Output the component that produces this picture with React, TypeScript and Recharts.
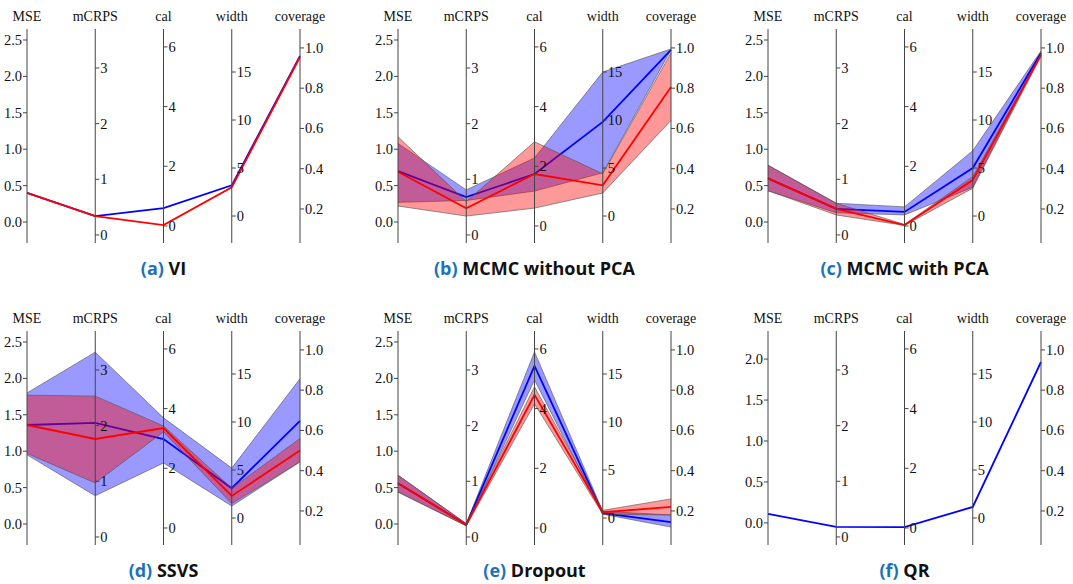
import { Area, ComposedChart, Line, ReferenceDot, ReferenceLine, XAxis, YAxis } from 'recharts'

const AXES = ['MSE', 'mCRPS', 'cal', 'width', 'coverage']

// value at the bottom / top end of each vertical axis
const AXIS_LO = [-0.288, -0.144, -0.57, -2.81, 0.031]
const AXIS_HI = [2.651, 3.7, 6.6, 19.48, 1.094]
const QR_MSE_LO = -0.27
const QR_MSE_HI = 2.343

const MSE_TICKS = [0, 0.5, 1, 1.5, 2, 2.5]
const QR_MSE_TICKS = [0, 0.5, 1, 1.5, 2]
const MCRPS_TICKS = [0, 1, 2, 3]
const CAL_TICKS = [0, 2, 4, 6]
const WIDTH_TICKS = [0, 5, 10, 15]
const COVERAGE_TICKS = [0.2, 0.4, 0.6, 0.8, 1]

// (a) VI
const VI_BLUE = [0.4, 0.34, 0.6, 3.2, 0.96]
const VI_RED = [0.4, 0.34, 0.03, 3.0, 0.955]

// (b) MCMC without PCA
const MCMC_BLUE = [0.7, 0.68, 1.74, 9.8, 0.99]
const MCMC_BLUE_LO = [0.27, 0.62, 1.17, 4.5, 0.99]
const MCMC_BLUE_HI = [1.08, 0.81, 2.28, 15.0, 0.995]
const MCMC_RED = [0.69, 0.48, 1.74, 3.2, 0.806]
const MCMC_RED_LO = [0.22, 0.34, 0.6, 2.4, 0.64]
const MCMC_RED_HI = [1.17, 0.6, 2.82, 4.4, 0.975]

// (c) MCMC with PCA
const PCA_BLUE = [0.6, 0.47, 0.47, 5.0, 0.975]
const PCA_BLUE_LO = [0.43, 0.4, 0.37, 3.0, 0.97]
const PCA_BLUE_HI = [0.78, 0.57, 0.64, 6.8, 0.985]
const PCA_RED = [0.6, 0.47, 0.03, 3.75, 0.965]
const PCA_RED_LO = [0.43, 0.36, 0.02, 2.9, 0.96]
const PCA_RED_HI = [0.78, 0.57, 0.05, 4.1, 0.97]

// (d) SSVS
const SSVS_BLUE = [1.36, 2.05, 2.98, 3.1, 0.648]
const SSVS_BLUE_LO = [0.95, 0.74, 2.18, 1.25, 0.444]
const SSVS_BLUE_HI = [1.8, 3.32, 3.69, 5.2, 0.857]
const SSVS_RED = [1.36, 1.76, 3.35, 2.3, 0.5]
const SSVS_RED_LO = [0.97, 0.97, 3.22, 1.5, 0.444]
const SSVS_RED_HI = [1.77, 2.53, 3.42, 3.1, 0.56]

// (e) Dropout
const DROP_BLUE = [0.56, 0.22, 5.43, 0.5, 0.145]
const DROP_BLUE_LO = [0.44, 0.2, 4.96, 0.4, 0.12]
const DROP_BLUE_HI = [0.67, 0.24, 5.9, 0.7, 0.18]
const DROP_RED = [0.56, 0.22, 4.46, 0.6, 0.22]
const DROP_RED_LO = [0.44, 0.2, 4.16, 0.4, 0.18]
const DROP_RED_HI = [0.67, 0.24, 4.73, 0.8, 0.26]

// (f) QR
const QR_BLUE = [0.11, 0.18, 0.03, 1.15, 0.94]

interface Panel {
	tag: string
	name: string
	left: number
	top: number
	blue: number[]
	blueLo?: number[]
	blueHi?: number[]
	red?: number[]
	redLo?: number[]
	redHi?: number[]
	qr?: boolean
}

const PANELS: Panel[] = [
	{ tag: '(a)', name: 'VI', left: 0, top: 0, blue: VI_BLUE, red: VI_RED },
	{
		tag: '(b)', name: 'MCMC without PCA', left: 371, top: 0,
		blue: MCMC_BLUE, blueLo: MCMC_BLUE_LO, blueHi: MCMC_BLUE_HI,
		red: MCMC_RED, redLo: MCMC_RED_LO, redHi: MCMC_RED_HI,
	},
	{
		tag: '(c)', name: 'MCMC with PCA', left: 741, top: 0,
		blue: PCA_BLUE, blueLo: PCA_BLUE_LO, blueHi: PCA_BLUE_HI,
		red: PCA_RED, redLo: PCA_RED_LO, redHi: PCA_RED_HI,
	},
	{
		tag: '(d)', name: 'SSVS', left: 0, top: 302,
		blue: SSVS_BLUE, blueLo: SSVS_BLUE_LO, blueHi: SSVS_BLUE_HI,
		red: SSVS_RED, redLo: SSVS_RED_LO, redHi: SSVS_RED_HI,
	},
	{
		tag: '(e)', name: 'Dropout', left: 371, top: 302,
		blue: DROP_BLUE, blueLo: DROP_BLUE_LO, blueHi: DROP_BLUE_HI,
		red: DROP_RED, redLo: DROP_RED_LO, redHi: DROP_RED_HI,
	},
	{ tag: '(f)', name: 'QR', left: 741, top: 302, blue: QR_BLUE, qr: true },
]

const SERIF = "'Liberation Serif', 'Times New Roman', serif"
const AXIS_COLOR = '#444'

const renderTick = (label: string, left: boolean) => (props: any) => {
	const { cx, cy } = props
	return (
		<g>
			<line stroke={AXIS_COLOR} x1={cx} x2={left ? cx - 4 : cx + 4} y1={cy} y2={cy} />
			<text
				dominantBaseline="central"
				fill="#111"
				style={{ fontFamily: SERIF, fontSize: 14.5 }}
				textAnchor={left ? 'end' : 'start'}
				x={left ? cx - 5 : cx + 5}
				y={cy}
			>
				{label}
			</text>
		</g>
	)
}

const ParallelPanel = ({ p }: { p: Panel }) => {
	const lo = AXIS_LO.map((v, i) => (i === 0 && p.qr ? QR_MSE_LO : v))
	const hi = AXIS_HI.map((v, i) => (i === 0 && p.qr ? QR_MSE_HI : v))
	const norm = (v: number, i: number) => (v - lo[i]) / (hi[i] - lo[i])

	const rows = AXES.map((name, i) => ({
		i,
		blue: norm(p.blue[i], i),
		red: p.red ? norm(p.red[i], i) : undefined,
		blueBand: p.blueLo && p.blueHi ? [norm(p.blueLo[i], i), norm(p.blueHi[i], i)] : undefined,
		redBand: p.redLo && p.redHi ? [norm(p.redLo[i], i), norm(p.redHi[i], i)] : undefined,
	}))

	const tickSets = [
		(p.qr ? QR_MSE_TICKS : MSE_TICKS).map((t) => ({ t, label: t.toFixed(1) })),
		MCRPS_TICKS.map((t) => ({ t, label: String(t) })),
		CAL_TICKS.map((t) => ({ t, label: String(t) })),
		WIDTH_TICKS.map((t) => ({ t, label: String(t) })),
		COVERAGE_TICKS.map((t) => ({ t, label: t.toFixed(1) })),
	]

	return (
		<div style={{ position: 'absolute', left: p.left, top: p.top }}>
			<ComposedChart data={rows} height={250} margin={{ top: 0, right: 30, bottom: 7, left: 27 }} width={330}>
				<XAxis
					axisLine={false}
					dataKey="i"
					domain={[0, 4]}
					height={29}
					interval={0}
					orientation="top"
					tick={{ fill: '#111', style: { fontFamily: SERIF, fontSize: 14 } }}
					tickFormatter={(v: number) => AXES[v]}
					tickLine={false}
					tickMargin={2}
					ticks={[0, 1, 2, 3, 4]}
					type="number"
				/>
				<YAxis domain={[0, 1]} hide type="number" />
				{AXES.map((name, i) => (
					<ReferenceLine key={name} stroke={AXIS_COLOR} strokeWidth={1} x={i} />
				))}
				{tickSets.map((set, i) =>
					set.map(({ t, label }) => (
						<ReferenceDot
							key={`${i}-${label}`}
							r={0}
							shape={renderTick(label, i === 0)}
							x={i}
							y={norm(t, i)}
						/>
					)),
				)}
				{p.blueLo && (
					<Area
						activeDot={false}
						dataKey="blueBand"
						dot={false}
						fill="#0000ff"
						fillOpacity={0.4}
						isAnimationActive={false}
						stroke="#555"
						strokeOpacity={0.8}
						strokeWidth={0.8}
						type="linear"
						zIndex={100}
					/>
				)}
				<Line
					activeDot={false}
					dataKey="blue"
					dot={false}
					isAnimationActive={false}
					stroke="#0000ff"
					strokeWidth={1.8}
					type="linear"
					zIndex={101}
				/>
				{p.redLo && (
					<Area
						activeDot={false}
						dataKey="redBand"
						dot={false}
						fill="#ff0000"
						fillOpacity={0.4}
						isAnimationActive={false}
						stroke="#555"
						strokeOpacity={0.8}
						strokeWidth={0.8}
						type="linear"
						zIndex={102}
					/>
				)}
				{p.red && (
					<Line
						activeDot={false}
						dataKey="red"
						dot={false}
						isAnimationActive={false}
						stroke="#ff0000"
						strokeWidth={1.8}
						type="linear"
						zIndex={103}
					/>
				)}
			</ComposedChart>
			<div
				style={{
					position: 'absolute',
					left: 27 + 2 * 68.25 - 200,
					top: 256,
					width: 400,
					textAlign: 'center',
					fontFamily: "'Open Sans', sans-serif",
					fontWeight: 700,
					fontSize: 18,
					lineHeight: '24px',
					color: '#111',
				}}
			>
				<span style={{ color: '#1b72b8' }}>{p.tag}</span> {p.name}
			</div>
		</div>
	)
}

export default function App() {
	return (
		<div
			style={{
				position: 'absolute',
				left: 0,
				top: 0,
				width: 1073,
				height: 584,
				background: '#fff',
				overflow: 'hidden',
			}}
		>
			{PANELS.map((p) => (
				<ParallelPanel key={p.tag} p={p} />
			))}
		</div>
	)
}
